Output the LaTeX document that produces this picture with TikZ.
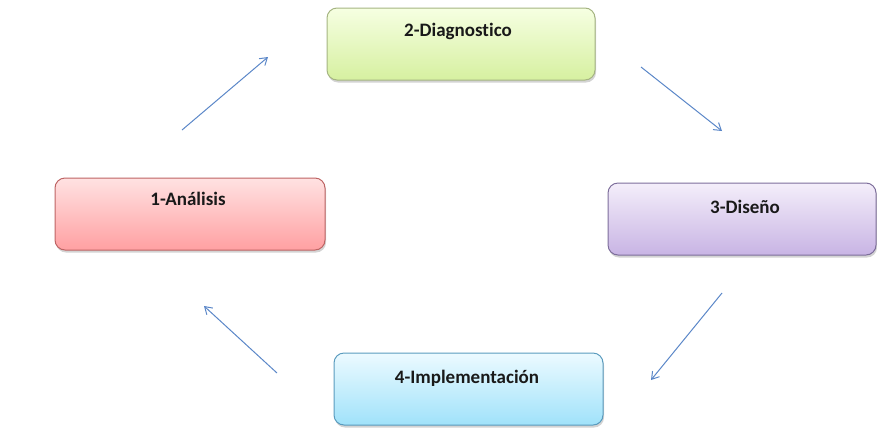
\documentclass[tikz,border=0pt]{standalone}
\usepackage{fontspec}
\setmainfont{Carlito}[Ligatures=NoCommon]
\usetikzlibrary{arrows.meta,shadows}
\definecolor{arrowblue}{HTML}{5B87C8}
\tikzset{
  box/.style={draw, line width=1pt, rounded corners=10pt, minimum width=#1, minimum height=72pt,
    inner sep=0pt, drop shadow={shadow xshift=1pt, shadow yshift=-2.5pt, opacity=0.35}},
  lbl/.style={font=\bfseries\fontsize{19}{22}\selectfont, text=black!90},
  flow/.style={draw=arrowblue, line width=1pt, -{Straight Barb[length=7pt,width=9pt]}}
}
\begin{document}
\begin{tikzpicture}[x=1pt,y=-1pt]
\useasboundingbox (0,0) rectangle (877,440);
% boxes
\node[box=268pt, draw={rgb,255:red,165;green,180;blue,130}, top color={rgb,255:red,246;green,255;blue,226}, bottom color={rgb,255:red,214;green,240;blue,160}] (b2) at (461,44) {};
\node[box=270pt, draw={rgb,255:red,190;green,100;blue,100}, top color={rgb,255:red,255;green,226;blue,226}, bottom color={rgb,255:red,255;green,160;blue,162}] (b1) at (190,214) {};
\node[box=268pt, draw={rgb,255:red,125;green,110;blue,155}, top color={rgb,255:red,244;green,238;blue,250}, bottom color={rgb,255:red,200;green,180;blue,228}] (b3) at (742,219) {};
\node[box=269pt, draw={rgb,255:red,90;green,155;blue,190}, top color={rgb,255:red,236;green,250;blue,255}, bottom color={rgb,255:red,160;green,226;blue,250}] (b4) at (468.5,389) {};
% labels
\node[lbl] (t2) at (458,31) {2-Diagnostico};
\node[lbl] (t1) at (188,199) {1-Análisis};
\node[lbl] (t3) at (745,207) {3-Diseño};
\node[lbl] (t4) at (467,378) {4-Implementación};
% arrows
\coordinate (a1s) at (182,130); \coordinate (a1e) at (268,57);
\coordinate (a2s) at (641,67);  \coordinate (a2e) at (722,131);
\coordinate (a3s) at (722,293); \coordinate (a3e) at (651,380);
\coordinate (a4s) at (277,373); \coordinate (a4e) at (204,306);
\draw[flow] (a1s) -- (a1e);
\draw[flow] (a2s) -- (a2e);
\draw[flow] (a3s) -- (a3e);
\draw[flow] (a4s) -- (a4e);
\end{tikzpicture}
\end{document}
